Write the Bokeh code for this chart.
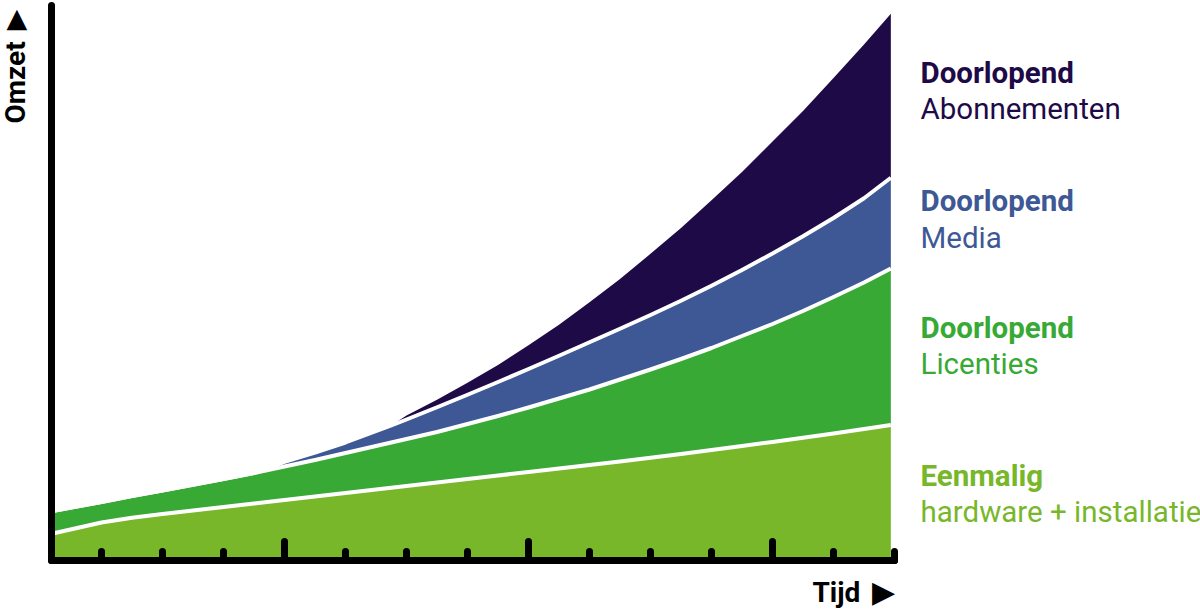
import math
import numpy as np
from bokeh.plotting import figure
from bokeh.models import (ColumnDataSource, Range1d, FixedTicker, Label, LinearAxis,
                          CustomJSTickFormatter)
from bokeh.embed import file_html
from bokeh.resources import INLINE

# ---- data ----
tijd = [0.2, 1, 1.5, 2, 2.5, 3, 3.5, 4, 4.5, 5, 5.75, 6, 6.5, 7, 7.5, 8, 8.5, 9, 9.5, 10,
        10.5, 11, 11.5, 12, 12.5, 13, 13.5, 13.94]
eenmalig = [5.4, 7.6, 8.55, 9.3, 10.0, 10.7, 11.4, 12.1, 12.8, 13.5, 14.55, 14.9, 15.6, 16.3,
            17.0, 17.7, 18.4, 19.1, 19.82, 20.56, 21.32, 22.1, 22.9, 23.72, 24.56, 25.42,
            26.3, 27.1]
licenties = [4.5, 4.1, 4.35, 4.7, 5.15, 5.6, 6.1, 6.7, 7.3, 8.0, 9.05, 9.4, 10.1, 11.0, 11.9,
             12.9, 14.0, 15.1, 16.38, 17.64, 18.98, 20.4, 22.0, 23.58, 25.34, 27.28, 29.3, 31.3]
media = [0, 0, 0, 0, 0, 0, 0, 0.95, 1.5, 2.1, 3.4, 3.9, 4.95, 5.85, 6.8, 7.7, 8.55, 9.45,
         10.15, 10.9, 11.65, 12.45, 13.2, 14.1, 14.95, 15.8, 16.85, 18.15]
abonnementen = [0, 0, 0, 0, 0, 0, 0, 0, 0, 0, 0, 0.8, 1.5, 2.4, 3.4, 4.74, 6.21, 8.01,
                9.95, 12.24, 14.53, 17.09, 19.58, 22.38, 25.05, 28.02, 30.73, 32.81]

major_ticks = [4, 8, 12]
minor_ticks = [1, 2, 3, 5, 6, 7, 9, 10, 11, 13, 14]

series_names = ["eenmalig", "licenties", "media", "abonnementen"]
colors = ["#78b72a", "#38a935", "#3d5895", "#1e0a46"]

labels = [
    ("Doorlopend", "Abonnementen", "#1e0a46", 97.6, 90.4),
    ("Doorlopend", "Media", "#3d5895", 71.9, 64.5),
    ("Doorlopend", "Licenties", "#38a935", 46.6, 39.4),
    ("Eenmalig", "hardware + installatie", "#78b72a", 17.0, 9.8),
]
x_axis_title = "Tijd"
y_axis_title = "Omzet"
FONT = "Roboto"

# ---- build ----
c1 = np.array(eenmalig, dtype=float)
c2 = c1 + np.array(licenties)
c3 = c2 + np.array(media)

src = ColumnDataSource(dict(
    t=tijd, eenmalig=eenmalig, licenties=licenties, media=media, abonnementen=abonnementen,
    b1=c1, b2=c2, b3=c3,
))

W, H = 1200, 612
# 1 time unit = 61 px, origin 40 px from the left; 1 value unit = 5 px, zero at 560 px
p = figure(width=W, height=H, output_backend="svg", toolbar_location=None,
           x_range=Range1d(-40 / 61, (W - 40) / 61), y_range=Range1d((560 - H) / 5, 560 / 5),
           x_axis_location=None, y_axis_location=None,
           min_border_left=0, min_border_right=0, min_border_top=0, min_border_bottom=0,
           background_fill_color="white", border_fill_color="white")
p.outline_line_color = None
p.grid.visible = False

p.varea_stack(stackers=series_names, x="t", color=colors, source=src)
for col in ["b1", "b2", "b3"]:
    p.line(x="t", y=col, source=src, line_color="white", line_width=4, line_join="round")

# x axis (fixed inside the frame)
xa = LinearAxis(fixed_location=0, bounds=(10.5 / 61, 14.0))
xa.ticker = FixedTicker(ticks=major_ticks, minor_ticks=minor_ticks)
xa.formatter = CustomJSTickFormatter(code="return ''")
xa.major_label_text_font_size = "0px"
xa.major_label_standoff = 0
xa.axis_line_width = 7
xa.axis_line_color = "black"
xa.axis_line_cap = "round"
xa.major_tick_in = 19
xa.major_tick_out = 0
xa.minor_tick_in = 9
xa.minor_tick_out = 0
xa.major_tick_line_width = 7
xa.minor_tick_line_width = 7
xa.major_tick_line_cap = "round"
xa.minor_tick_line_cap = "round"
xa.major_tick_line_color = "black"
xa.minor_tick_line_color = "black"
p.add_layout(xa, "below")

# y axis
ya = LinearAxis(fixed_location=10.5 / 61, bounds=(0, 111))
ya.ticker = FixedTicker(ticks=[], minor_ticks=[])
ya.formatter = CustomJSTickFormatter(code="return ''")
ya.major_label_text_font_size = "0px"
ya.axis_line_width = 7
ya.axis_line_color = "black"
ya.axis_line_cap = "round"
ya.major_tick_in = 0
ya.major_tick_out = 0
ya.minor_tick_in = 0
ya.minor_tick_out = 0
p.add_layout(ya, "left")

# right-hand labels
lx = (920 - 40) / 61
for bold, reg, col, yb, yr in labels:
    p.add_layout(Label(x=lx, y=yb, text=bold, text_font=FONT, text_font_style="bold",
                       text_font_size="29.5px", text_color=col, text_baseline="alphabetic"))
    p.add_layout(Label(x=lx, y=yr, text=reg, text_font=FONT, text_font_size="29.5px",
                       text_color=col, text_baseline="alphabetic"))

# axis titles and arrow heads
p.add_layout(Label(x=(812 - 40) / 61, y=(560 - 592) / 5, text=x_axis_title, text_font=FONT,
                   text_font_style="bold", text_font_size="28px", text_color="black",
                   text_baseline="alphabetic"))
p.add_layout(Label(x=(883 - 40) / 61, y=(560 - 591) / 5, text="\u25B6", text_font="DejaVu Sans",
                   text_font_size="30px", text_color="black", text_align="center",
                   text_baseline="alphabetic"))
p.add_layout(Label(x=(15 - 40) / 61, y=(560 - 123) / 5, text=y_axis_title, text_font=FONT,
                   text_font_style="bold", text_font_size="28px", text_color="black",
                   text_baseline="alphabetic", angle=math.pi / 2))
p.add_layout(Label(x=(16.5 - 40) / 61, y=(560 - 17) / 5, text="\u25B2", text_font="DejaVu Sans",
                   text_font_size="27px", text_color="black", text_align="center",
                   text_baseline="alphabetic"))

open("out.html", "w").write(file_html(p, INLINE))
